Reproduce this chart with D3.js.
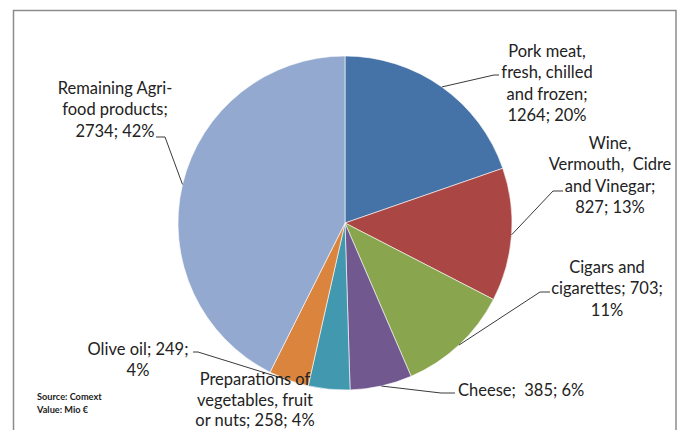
<!DOCTYPE html>
<html>
<head>
<meta charset="utf-8">
<script src="https://cdn.jsdelivr.net/npm/d3@7/dist/d3.min.js"></script>
<style>
  html, body { margin: 0; padding: 0; background: #fff; }
  svg { display: block; }
  text { font-family: Lato, "Open Sans", sans-serif; fill: #222; }
</style>
</head>
<body>
<svg id="chart" width="684" height="430"></svg>
<script>
// Agri-food exports by product group (Mio €)
const categories = [
  "Pork meat, fresh, chilled and frozen",
  "Wine, Vermouth, Cidre and Vinegar",
  "Cigars and cigarettes",
  "Cheese",
  "Preparations of vegetables, fruit or nuts",
  "Olive oil",
  "Remaining Agri-food products"
];
const values = [1264, 827, 703, 385, 258, 249, 2734];
const percents = [20, 13, 11, 6, 4, 4, 42];
// label text, broken into lines as displayed
const labelLines = [
  ["Pork meat,", "fresh, chilled", "and frozen;", "1264; 20%"],
  ["Wine,", "Vermouth,  Cidre", "and Vinegar;", "827; 13%"],
  ["Cigars and", "cigarettes; 703;", "11%"],
  ["Cheese;  385; 6%"],
  ["Preparations of", "vegetables, fruit", "or nuts; 258; 4%"],
  ["Olive oil; 249;", "4%"],
  ["Remaining Agri-", "food products;", "2734; 42%"]
];
const colors = ["#4572A7", "#AA4643", "#89A54E", "#71588F", "#4198AF", "#DB843D", "#93A9CF"];
const sourceLines = ["Source: Comext", "Value: Mio €"];

// layout: label centre x, first-line centre y, line spacing, text anchor, leader elbow and end
const labelLayout = [
  { x: 547, y: 51,  lh: 21.5, anchor: "middle", elbow: [494, 75],  end: [499, 75] },
  { x: 610, y: 143, lh: 21.5, anchor: "middle", elbow: [553, 191], end: [563, 191] },
  { x: 607, y: 267, lh: 21.5, anchor: "middle", elbow: [540, 292], end: [550, 292] },
  { x: 458, y: 390, lh: 21.5, anchor: "start",  elbow: [441, 393], end: [455, 393] },
  { x: 255, y: 379, lh: 20.8, anchor: "middle", elbow: null, end: null },
  { x: 138, y: 349, lh: 21.5, anchor: "middle", elbow: [198, 352], end: [193, 352] },
  { x: 115, y: 88,  lh: 21.5, anchor: "middle", elbow: [165, 137], end: [156, 137] }
];

const svg = d3.select("#chart");
const cx = 345, cy = 223, r = 167;

// frame
svg.append("rect")
  .attr("x", 13.5).attr("y", 10.5)
  .attr("width", 662.5).attr("height", 440)
  .attr("fill", "#fff")
  .attr("stroke", "#8c8c8c").attr("stroke-width", 1.5);

const pie = d3.pie().sort(null).value(d => d).startAngle(0).endAngle(2 * Math.PI);
const arcs = pie(values);
const arc = d3.arc().innerRadius(0).outerRadius(r);

const g = svg.append("g").attr("transform", `translate(${cx},${cy})`);
g.selectAll("path.slice")
  .data(arcs)
  .join("path")
  .attr("class", "slice")
  .attr("d", arc)
  .attr("fill", (d, i) => colors[i])
  .attr("stroke", "#fff")
  .attr("stroke-width", 0.6);

// leader lines from slice mid-angle on the rim
const edgePoint = d => {
  const a = (d.startAngle + d.endAngle) / 2;
  return [cx + r * Math.sin(a), cy - r * Math.cos(a)];
};
arcs.forEach((d, i) => {
  const L = labelLayout[i];
  if (!L.elbow) return;
  const p = edgePoint(d);
  svg.append("polyline")
    .attr("points", [p, L.elbow, L.end].map(q => q.join(",")).join(" "))
    .attr("fill", "none")
    .attr("stroke", "#3a3a3a")
    .attr("stroke-width", 1);
});

// data labels
labelLines.forEach((lines, i) => {
  const L = labelLayout[i];
  const t = svg.append("text")
    .attr("text-anchor", L.anchor)
    .attr("font-size", 16.5)
    .style("white-space", "pre");
  lines.forEach((ln, k) => {
    t.append("tspan")
      .attr("x", L.x)
      .attr("y", L.y + k * L.lh)
      .attr("dy", "0.35em")
      .text(ln);
  });
});

// source note
const s = svg.append("text").attr("font-size", 9.2).attr("font-weight", "bold");
sourceLines.forEach((ln, k) => {
  s.append("tspan").attr("x", 37).attr("y", 397 + k * 12.5).attr("dy", "0.35em").text(ln);
});
</script>
</body>
</html>
